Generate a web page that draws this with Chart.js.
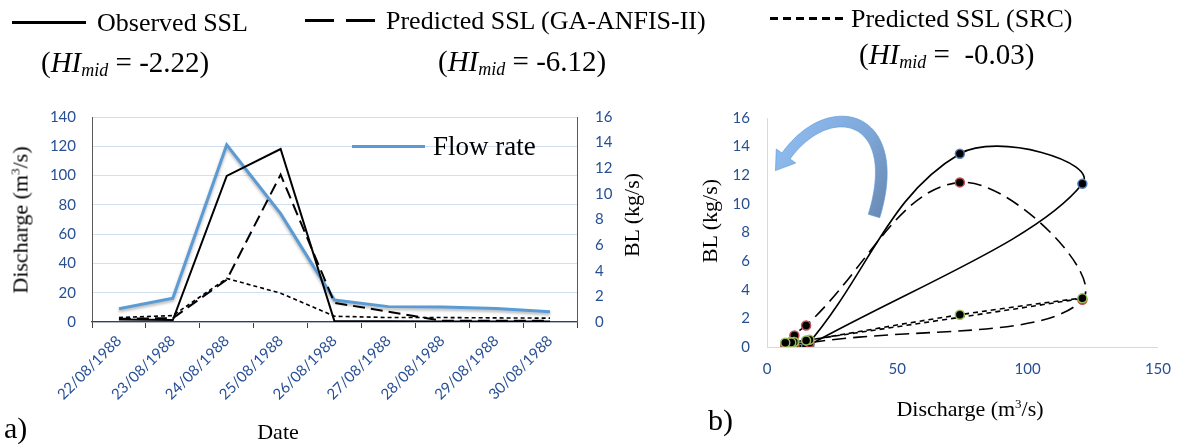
<!DOCTYPE html>
<html><head><meta charset="utf-8">
<script src="https://cdn.jsdelivr.net/npm/chart.js@4.4.0/dist/chart.umd.min.js"></script>
<style>
html,body{margin:0;padding:0;background:#fff;}
#wrap{position:relative;width:1184px;height:446px;overflow:hidden;font-family:'Liberation Serif','Times New Roman',serif;color:#000;}
.t{position:absolute;white-space:nowrap;line-height:1;}
.c{transform:translate(-50%,-50%);}
.v{transform:translate(-50%,-50%) rotate(-90deg);}
canvas{position:absolute;top:0;}
</style></head><body>
<div id="wrap">
<canvas id="a" width="660" height="446" style="left:0"></canvas>
<canvas id="b" width="484" height="446" style="left:700px"></canvas>

<!-- top legend -->
<div style="position:absolute;left:12px;top:21px;width:74px;height:2.5px;background:#000"></div>
<div class="t" style="left:97px;top:10px;font-size:26px">Observed SSL</div>
<div class="t" style="left:41px;top:48px;font-size:29px">(<i>HI<sub style="font-size:18px;vertical-align:-4px">mid</sub></i> = -2.22)</div>

<div style="position:absolute;left:305px;top:19px;width:29px;height:2.5px;background:#000"></div>
<div style="position:absolute;left:346px;top:19px;width:29px;height:2.5px;background:#000"></div>
<div class="t" style="left:386px;top:8px;font-size:26px">Predicted SSL (GA-ANFIS-II)</div>
<div class="t" style="left:438px;top:47px;font-size:29px">(<i>HI<sub style="font-size:18px;vertical-align:-4px">mid</sub></i> = -6.12)</div>

<div style="position:absolute;left:770px;top:17px;width:74px;height:2.5px;background:repeating-linear-gradient(90deg,#000 0 8px,transparent 8px 13px)"></div>
<div class="t" style="left:851px;top:6px;font-size:26px">Predicted SSL (SRC)</div>
<div class="t" style="left:859px;top:40px;font-size:29px">(<i>HI<sub style="font-size:18px;vertical-align:-4px">mid</sub></i> = &nbsp;-0.03)</div>

<!-- panel a texts -->
<div class="t v" style="left:20px;top:220px;font-size:22px">Discharge (m<sup style="font-size:13px;vertical-align:8px">3</sup>/s)</div>
<div class="t v" style="left:632px;top:215px;font-size:22px">BL (kg/s)</div>
<div class="t c" style="left:278px;top:432px;font-size:22px">Date</div>
<div class="t" style="left:4px;top:413px;font-size:30px">a)</div>
<div style="position:absolute;left:352px;top:144.5px;width:73px;height:3.5px;background:#5B9BD5"></div>
<div class="t" style="left:433px;top:133px;font-size:27px">Flow rate</div>

<!-- panel b texts -->
<div class="t v" style="left:710px;top:221px;font-size:22px">BL (kg/s)</div>
<div class="t c" style="left:970px;top:408px;font-size:22px">Discharge (m<sup style="font-size:13px;vertical-align:8px">3</sup>/s)</div>
<div class="t" style="left:708px;top:405px;font-size:30px">b)</div>
</div>

<script>
// ---- data ----
const dates = ['22/08/1988','23/08/1988','24/08/1988','25/08/1988','26/08/1988','27/08/1988','28/08/1988','29/08/1988','30/08/1988'];
const flowRate = [9, 16.3, 121, 74, 15, 10.5, 10.3, 9.3, 7];            // m3/s
const observedSSL = [0.2, 0.15, 11.4, 13.5, 0.05, 0.05, 0.03, 0.03, 0.03]; // kg/s
const gaAnfisSSL = [0.25, 0.3, 3.3, 11.5, 1.5, 0.8, 0.1, 0.1, 0.1];       // kg/s
const srcSSL = [0.35, 0.5, 3.4, 2.25, 0.45, 0.35, 0.35, 0.32, 0.3];       // kg/s
const dischargeTicks = {min:0, max:140, step:20};
const blTicks = {min:0, max:16, step:2};
const qTicks = {min:0, max:150, step:50};

const TICK = '#264F94';
const TF = {family:'Lato', size:15};

// ---- panel a ----
const shadowPlugin = {
  id:'lineShadow',
  beforeDatasetDraw(chart, args){
    if (chart.data.datasets[args.index].shadow){
      const c = chart.ctx; c.save();
      c.shadowColor='rgba(0,0,0,0.3)'; c.shadowBlur=3; c.shadowOffsetY=2;
    }
  },
  afterDatasetDraw(chart, args){
    if (chart.data.datasets[args.index].shadow) chart.ctx.restore();
  }
};

new Chart(document.getElementById('a'), {
  type:'line',
  data:{
    labels: dates,
    datasets:[
      {label:'Flow rate', data:flowRate, yAxisID:'y', borderColor:'#5B9BD5', borderWidth:3, pointRadius:0, tension:0, order:10, shadow:true},
      {label:'Observed SSL', data:observedSSL, yAxisID:'y1', borderColor:'#000', borderWidth:2, pointRadius:0, tension:0, order:1},
      {label:'Predicted SSL (GA-ANFIS-II)', data:gaAnfisSSL, yAxisID:'y1', borderColor:'#000', borderWidth:2, borderDash:[12,6], pointRadius:0, tension:0, order:2},
      {label:'Predicted SSL (SRC)', data:srcSSL, yAxisID:'y1', borderColor:'#000', borderWidth:1.6, borderDash:[4,3], pointRadius:0, tension:0, order:3}
    ]
  },
  options:{
    responsive:false, animation:false, devicePixelRatio:1,
    layout:{padding:{top:117,left:0,right:0,bottom:0}},
    plugins:{legend:{display:false}, tooltip:{enabled:false}},
    scales:{
      x:{type:'category', offset:true,
         grid:{display:true, offset:true, drawOnChartArea:false, drawTicks:true, tickLength:6, color:'#404040'},
         border:{display:true, color:'#404040', width:1.3},
         ticks:{minRotation:45, maxRotation:45, autoSkip:false, font:TF, color:TICK, padding:4},
         afterFit(s){ s.height = 124; }},
      y:{position:'left', min:dischargeTicks.min, max:dischargeTicks.max,
         ticks:{stepSize:dischargeTicks.step, font:TF, color:TICK, padding:16},
         grid:{color:'#D3E0F1', drawTicks:false},
         border:{display:true, color:'#595959'},
         afterFit(s){ s.width = 92; }},
      y1:{position:'right', min:blTicks.min, max:blTicks.max,
         ticks:{stepSize:blTicks.step, font:TF, color:TICK, padding:18},
         grid:{display:false, drawTicks:false},
         border:{display:true, color:'#595959'},
         afterFit(s){ s.width = 83; }}
    }
  },
  plugins:[shadowPlugin]
});

// ---- panel b ----
const pts = (ys) => flowRate.map((q,i)=>({x:q, y:ys[i]}));

const arrowPlugin = {
  id:'turnArrow',
  afterDraw(chart){
    const ca = chart.chartArea, c = chart.ctx;
    const L = ca.left, T = ca.top;
    const P = [[107,98],[138,-3],[63,-23],[19,38]].map(p=>[L+p[0], T+p[1]]);
    const bez = (t,k)=>{const u=1-t;return u*u*u*P[0][k]+3*u*u*t*P[1][k]+3*u*t*t*P[2][k]+t*t*t*P[3][k];};
    const der = (t,k)=>{const u=1-t;return 3*u*u*(P[1][k]-P[0][k])+6*u*t*(P[2][k]-P[1][k])+3*t*t*(P[3][k]-P[2][k]);};
    const N=60, left=[], right=[];
    for(let i=0;i<=N;i++){
      const t=i/N, x=bez(t,0), y=bez(t,1);
      let dx=der(t,0), dy=der(t,1); const m=Math.hypot(dx,dy); dx/=m; dy/=m;
      const w = 6 - 1.0*t;
      left.push([x - dy*w, y + dx*w]); right.push([x + dy*w, y - dx*w]);
    }
    const ex=P[3][0], ey=P[3][1];
    let tx=der(1,0), ty=der(1,1); const tm=Math.hypot(tx,ty); tx/=tm; ty/=tm;
    const g = c.createLinearGradient(P[0][0]+10,P[0][1], ex-10,ey);
    g.addColorStop(0,'#6A89B3'); g.addColorStop(0.45,'#7FA8DA'); g.addColorStop(1,'#8DB9EC');
    c.save();
    c.fillStyle=g;
    c.strokeStyle='rgba(91,155,213,0.8)'; c.lineWidth=0.8;
    c.beginPath();
    left.forEach((p,i)=> i? c.lineTo(p[0],p[1]) : c.moveTo(p[0],p[1]));
    const hw=12, hl=18;
    c.lineTo(ex - ty*hw, ey + tx*hw);
    c.lineTo(ex + tx*hl, ey + ty*hl);
    c.lineTo(ex + ty*hw, ey - tx*hw);
    for(let i=right.length-1;i>=0;i--) c.lineTo(right[i][0], right[i][1]);
    c.closePath();
    c.fill(); c.stroke();
    c.restore();
  }
};

new Chart(document.getElementById('b'), {
  type:'scatter',
  data:{
    datasets:[
      {label:'Predicted SSL (SRC)', data:pts(srcSSL), showLine:true, tension:0.4, borderColor:'#000', borderWidth:1.6, borderDash:[5,4],
       pointRadius:4.5, pointBackgroundColor:'#000', pointBorderColor:'#9BBB59', pointBorderWidth:1.5, order:1},
      {label:'Predicted SSL (GA-ANFIS-II)', data:pts(gaAnfisSSL), showLine:true, tension:0.4, borderColor:'#000', borderWidth:1.6, borderDash:[14,7],
       pointRadius:4.5, pointBackgroundColor:'#000', pointBorderColor:'#C0504D', pointBorderWidth:1.5, order:2},
      {label:'Observed SSL', data:pts(observedSSL), showLine:true, tension:0.4, borderColor:'#000', borderWidth:1.6,
       pointRadius:4.5, pointBackgroundColor:'#000', pointBorderColor:'#4F81BD', pointBorderWidth:1.5, order:3}
    ]
  },
  options:{
    responsive:false, animation:false, devicePixelRatio:1,
    layout:{padding:{top:118,left:0,right:24,bottom:0}},
    plugins:{legend:{display:false}, tooltip:{enabled:false}},
    scales:{
      x:{type:'linear', min:qTicks.min, max:qTicks.max,
         ticks:{stepSize:qTicks.step, font:TF, color:TICK, padding:13},
         grid:{display:false, drawTicks:false},
         border:{display:true, color:'#D9D9D9'},
         afterFit(s){ s.height = 99; }},
      y:{min:blTicks.min, max:blTicks.max,
         ticks:{stepSize:blTicks.step, font:TF, color:TICK, padding:17},
         grid:{display:false, drawTicks:false},
         border:{display:true, color:'#D9D9D9'},
         afterFit(s){ s.width = 67; }}
    }
  },
  plugins:[arrowPlugin]
});
</script>
</body></html>
